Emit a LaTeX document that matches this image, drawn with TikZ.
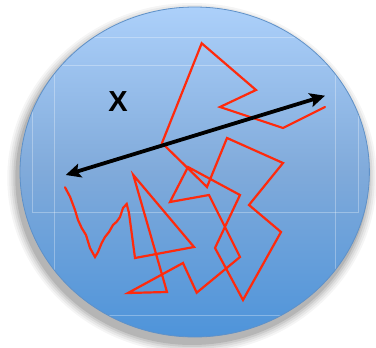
\documentclass[tikz,border=0pt]{standalone}
\usepackage{fontspec}
\setmainfont{Liberation Sans}
\usetikzlibrary{arrows.meta}
\definecolor{bluetop}{RGB}{172,208,250}
\definecolor{bluemid}{RGB}{128,170,218}
\definecolor{bluebot}{RGB}{78,148,218}
\definecolor{rim}{RGB}{95,145,200}
\definecolor{walk}{RGB}{255,42,12}
\tikzset{
  walkline/.style={draw=walk, line width=2.2pt, line join=miter, line cap=round},
  guide/.style={draw=white, opacity=0.3, line width=0.6pt},
  measure/.style={draw=black, line width=3.8pt, {Stealth[length=15pt,width=14pt,inset=3pt]}-{Stealth[length=15pt,width=14pt,inset=3pt]}},
  label/.style={font=\fontsize{29}{29}\selectfont\bfseries, text=black, inner sep=0pt}
}
\begin{document}
\begin{tikzpicture}[x=1pt,y=-1pt]
\useasboundingbox (0,0) rectangle (376,348);
% shadow
\foreach \s/\o in {10/0.04,8/0.05,6/0.06,4/0.08,2/0.10}{
  \fill[black,opacity=\o] (192,178) ellipse ({174.7+\s} and {165+\s});
}
% disc
\shade[top color=bluetop, bottom color=bluebot, middle color=bluemid] (194.7,172) ellipse (174.7 and 165);
\begin{scope}
\clip (194.7,172) ellipse (174.7 and 165);
\draw[guide] (32,37) rectangle (358,212);
\draw[guide] (54,65) rectangle (335,315);
\end{scope}
\draw[rim, line width=0.8pt] (194.7,172) ellipse (174.7 and 165);
% random walk
\draw[walkline] (65,187.3) -- (70,196.7) -- (75,210) -- (78,220) -- (81.7,228) -- (86,235) -- (90,248) -- (95,257) -- (98,252) -- (101.7,243) -- (105,237) -- (109,232) -- (113,225) -- (116.7,221.7) -- (120,217) -- (123,208) -- (126.7,204) -- (129,213) -- (135,258) -- (194,247) -- (133.3,175) -- (167,292) -- (128,293) -- (183,263) -- (196.7,292.7) -- (240,257) -- (209,195) -- (170,202) -- (188,167) -- (240,195) -- (215,248) -- (243,300) -- (281,232) -- (249,205) -- (283,163) -- (227,138) -- (207,187) -- (162,143) -- (201.7,43.3) -- (256,90) -- (220,107) -- (283,128) -- (325,107);
% measurement arrow
\coordinate (L) at (65.7,175);
\coordinate (R) at (325,95.7);
\draw[measure] (L) -- (R);
\node[label] (X) at (118,102) {X};
\end{tikzpicture}
\end{document}
